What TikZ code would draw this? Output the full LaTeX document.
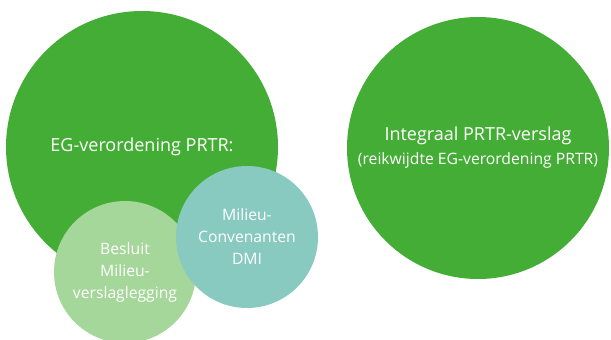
\documentclass[tikz,border=0pt]{standalone}
\usepackage{fontspec}
\setmainfont{Open Sans}
\usepackage{tikz}

\definecolor{dkgreen}{HTML}{44AD35}
\definecolor{ltgreen}{HTML}{A5D69A}
\definecolor{teal}{HTML}{88CAC0}

\begin{document}
\begin{tikzpicture}[x=1pt,y=-1pt,
        main/.style = {circle, inner sep=0pt, text=white, align=center, font=\fontsize{18}{24}\selectfont},
        small/.style = {main, font=\fontsize{15.7}{22}\selectfont}] 
        \useasboundingbox (0,0) rectangle (611,340);
        \node[main, fill=dkgreen, minimum size=272pt] (1) at (142,147) {EG-verordening PRTR:};
        \node[main, fill=dkgreen, minimum size=262pt] (2) at (478,148) {Integraal PRTR-verslag\\{\fontsize{15.7}{24}\selectfont(reikwijdte EG-verordening PRTR)}};
        \node[small, fill=ltgreen, minimum size=142pt] (3) at (125,272) {Besluit\\Milieu-\\verslaglegging};
        \node[small, fill=teal, minimum size=142pt] (4) at (247,237) {Milieu-\\Convenanten\\DMI};
\end{tikzpicture}
\end{document}
